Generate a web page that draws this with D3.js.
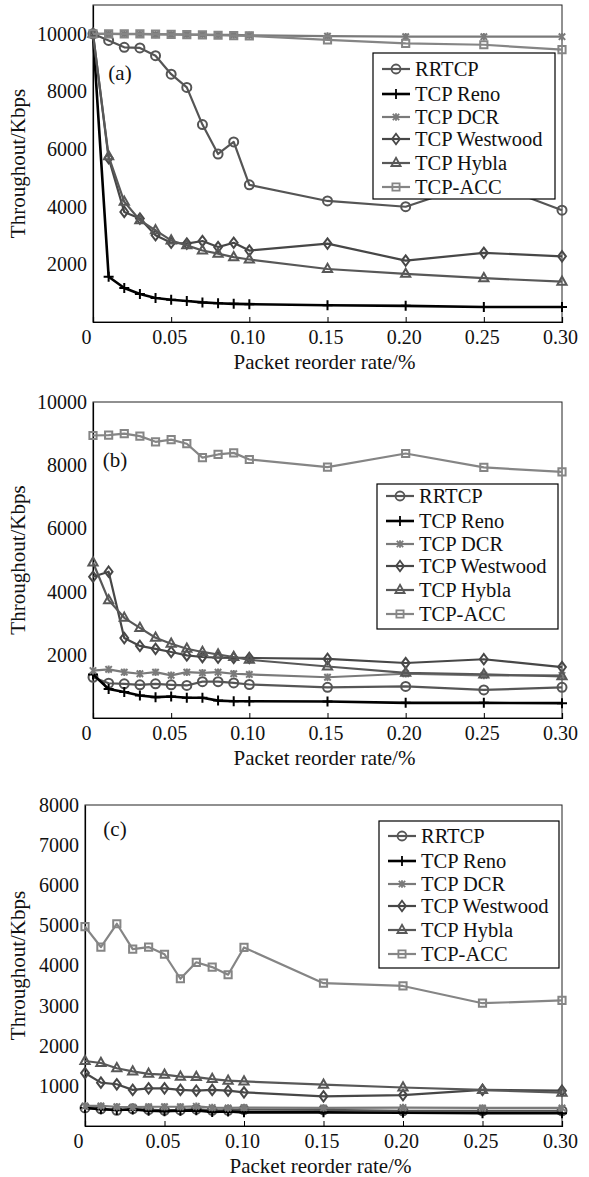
<!DOCTYPE html>
<html>
<head>
<meta charset="utf-8">
<script src="https://cdn.jsdelivr.net/npm/d3@7"></script>
<style>
body { margin: 0; background: #fff; }
svg { display: block; }
svg text { font-family: "Liberation Serif", "DejaVu Serif", serif !important; fill: #111; }
</style>
</head>
<body>
<svg></svg>
<script>
let width = 589, height = 1177;
const serif = "'Liberation Serif', 'DejaVu Serif', serif";

// packet reorder rate (%)
const xRates = [0, 0.01, 0.02, 0.03, 0.04, 0.05, 0.06, 0.07, 0.08, 0.09, 0.10, 0.15, 0.20, 0.25, 0.30];
const xTicks = [0, 0.05, 0.10, 0.15, 0.20, 0.25, 0.30];
const xTickLabels = ["0", "0.05", "0.10", "0.15", "0.20", "0.25", "0.30"];
const seriesNames = ["RRTCP", "TCP Reno", "TCP DCR", "TCP Westwood", "TCP Hybla", "TCP-ACC"];

// panel (a)
const aRRTCP    = [10000, 9770, 9530, 9510, 9240, 8600, 8140, 6850, 5830, 6250, 4760, 4200, 4000, 4900, 3880];
const aReno     = [10000, 1570, 1180, 970, 830, 770, 730, 680, 650, 630, 620, 580, 560, 520, 520];
const aDCR      = [10000, 10000, 9990, 9990, 9980, 9980, 9970, 9970, 9960, 9960, 9950, 9920, 9900, 9900, 9900];
const aWestwood = [10000, 5690, 3820, 3590, 3010, 2750, 2720, 2810, 2600, 2750, 2480, 2720, 2130, 2400, 2280];
const aHybla    = [10000, 5750, 4170, 3530, 3180, 2830, 2660, 2480, 2370, 2250, 2170, 1840, 1670, 1520, 1400];
const aACC      = [10000, 10000, 10000, 10000, 9990, 9980, 9970, 9960, 9950, 9940, 9930, 9790, 9670, 9620, 9450];
const aYTicks   = [2000, 4000, 6000, 8000, 10000];

// panel (b)
const bRRTCP    = [1290, 1100, 1080, 1050, 1080, 1050, 1030, 1150, 1150, 1110, 1060, 970, 1000, 890, 970];
const bReno     = [1380, 920, 820, 710, 660, 680, 640, 640, 550, 530, 530, 520, 480, 480, 470];
const bDCR      = [1500, 1540, 1450, 1400, 1450, 1350, 1450, 1430, 1450, 1400, 1380, 1290, 1400, 1350, 1350];
const bWestwood = [4470, 4630, 2530, 2280, 2190, 2090, 1980, 1930, 1910, 1900, 1900, 1870, 1740, 1860, 1610];
const bHybla    = [4920, 3730, 3170, 2850, 2540, 2350, 2190, 2090, 2010, 1930, 1840, 1630, 1430, 1380, 1320];
const bACC      = [8940, 8950, 9000, 8920, 8740, 8810, 8680, 8240, 8340, 8390, 8180, 7940, 8370, 7930, 7790];
const bYTicks   = [2000, 4000, 6000, 8000, 10000];

// panel (c)
const cRRTCP    = [450, 430, 390, 430, 410, 390, 400, 420, 390, 390, 410, 400, 380, 380, 380];
const cReno     = [450, 420, 400, 410, 380, 370, 380, 390, 350, 360, 340, 340, 330, 320, 320];
const cDCR      = [500, 500, 480, 470, 480, 480, 480, 490, 460, 450, 460, 450, 460, 450, 450];
const cWestwood = [1320, 1080, 1040, 900, 940, 940, 900, 880, 900, 880, 840, 740, 770, 900, 880];
const cHybla    = [1620, 1570, 1440, 1360, 1300, 1280, 1230, 1220, 1170, 1130, 1110, 1030, 960, 900, 830];
const cACC      = [4970, 4460, 5040, 4410, 4460, 4280, 3670, 4080, 3960, 3770, 4450, 3560, 3490, 3060, 3130];
const cYTicks   = [1000, 2000, 3000, 4000, 5000, 6000, 7000, 8000];

let svg = d3.select("svg")
    .attr("width", width)
    .attr("height", height)
    .attr("font-family", serif);

// styles per series: colour, line width, marker
const styles = [
  {color: "#555555", w: 2.2, marker: "circle"},
  {color: "#000000", w: 2.6, marker: "plus"},
  {color: "#7a7a7a", w: 2.2, marker: "star"},
  {color: "#474747", w: 2.2, marker: "diamond"},
  {color: "#585858", w: 2.2, marker: "triangle"},
  {color: "#858585", w: 2.2, marker: "square"}
];

const markerPath = {
  circle: "M4.5,0A4.5,4.5 0 1,1 -4.5,0A4.5,4.5 0 1,1 4.5,0Z",
  plus: "M-5,0H5M0,-5V5",
  star: "M-3.2,-3.2L3.2,3.2M-3.2,3.2L3.2,-3.2M0,-3.8V3.8",
  diamond: "M0,-5.2L3.9,0L0,5.2L-3.9,0Z",
  triangle: "M0,-5.2L4.6,3L-4.6,3Z",
  square: "M-3.6,-3.6H3.6V3.6H-3.6Z"
};

// row offsets inside the legend (third and fourth rows sit close together)
const legendRows = [0, 25, 48, 70, 94, 118];

const panels = [
  {tag: "(a)", tagPos: [120, 73], top: 5, bottom: 322, left: 93, yMax: 11000, yTicks: aYTicks,
   data: [aRRTCP, aReno, aDCR, aWestwood, aHybla, aACC], legend: {x: 373, y: 53, w: 182, h: 146, first: 69}},
  {tag: "(b)", tagPos: [115, 460], top: 402, bottom: 718, left: 93, yMax: 10000, yTicks: bYTicks,
   data: [bRRTCP, bReno, bDCR, bWestwood, bHybla, bACC], legend: {x: 377, y: 484, w: 181, h: 145, first: 496}},
  {tag: "(c)", tagPos: [115, 829], top: 805, bottom: 1126, left: 85, yMax: 8000, yTicks: cYTicks,
   data: [cRRTCP, cReno, cDCR, cWestwood, cHybla, cACC], legend: {x: 379, y: 821, w: 180, h: 147, first: 836}}
];

const right = 562;

panels.forEach(p => {
  let g = svg.append("g");

  let x = d3.scaleLinear().domain([0, 0.30]).range([p.left, right]);
  let y = d3.scaleLinear().domain([0, p.yMax]).range([p.bottom, p.top]);

  // frame
  g.append("rect")
    .attr("x", p.left).attr("y", p.top)
    .attr("width", right - p.left).attr("height", p.bottom - p.top)
    .attr("fill", "none").attr("stroke", "#222").attr("stroke-width", 1);

  // x axis, ticks point inward
  let xAxis = g.append("g")
    .attr("transform", "translate(0," + p.bottom + ")")
    .call(d3.axisBottom(x).tickValues(xTicks)
      .tickFormat((d, i) => xTickLabels[i])
      .tickSize(-5).tickPadding(8));
  xAxis.attr("font-family", serif).attr("font-size", 20);
  xAxis.select(".domain").attr("stroke", "#000").attr("stroke-width", 1.2);
  xAxis.selectAll(".tick line").attr("stroke", "#000");
  xAxis.selectAll("text").attr("dx", (d, i) => i == 0 ? -7 : -2);

  // y axis
  let yAxis = g.append("g")
    .attr("transform", "translate(" + p.left + ",0)")
    .call(d3.axisLeft(y).tickValues(p.yTicks).tickFormat(d3.format("d"))
      .tickSize(0).tickPadding(6));
  yAxis.attr("font-family", serif).attr("font-size", 20);
  yAxis.select(".domain").attr("stroke", "#000").attr("stroke-width", 1.2);

  // series lines + markers (legend order, later ones on top)
  let line = d3.line().x((d, i) => x(xRates[i])).y(d => y(d));
  p.data.forEach((vals, k) => {
    let s = styles[k];
    g.append("path")
      .datum(vals)
      .attr("d", line)
      .attr("fill", "none")
      .attr("stroke", s.color)
      .attr("stroke-width", s.w)
      .attr("stroke-linejoin", "round");
    g.selectAll(null)
      .data(vals)
      .enter()
      .append("path")
      .attr("d", markerPath[s.marker])
      .attr("transform", (d, i) => "translate(" + x(xRates[i]) + "," + y(d) + ")")
      .attr("fill", "none")
      .attr("stroke", s.color)
      .attr("stroke-width", 2);
  });

  // panel tag
  g.append("text")
    .attr("x", p.tagPos[0]).attr("y", p.tagPos[1])
    .attr("dy", "0.35em")
    .attr("text-anchor", "middle")
    .attr("font-size", 21)
    .text(p.tag);

  // legend
  let L = p.legend;
  let lg = g.append("g");
  lg.append("rect")
    .attr("x", L.x).attr("y", L.y).attr("width", L.w).attr("height", L.h)
    .attr("fill", "#fff").attr("stroke", "#000").attr("stroke-width", 1.2);
  seriesNames.forEach((name, k) => {
    let s = styles[k];
    let ry = L.first + legendRows[k];
    lg.append("line")
      .attr("x1", L.x + 9).attr("x2", L.x + 37)
      .attr("y1", ry).attr("y2", ry)
      .attr("stroke", s.color).attr("stroke-width", s.w);
    lg.append("path")
      .attr("d", markerPath[s.marker])
      .attr("transform", "translate(" + (L.x + 23) + "," + ry + ")")
      .attr("fill", "none").attr("stroke", s.color).attr("stroke-width", 1.8);
    lg.append("text")
      .attr("x", L.x + 42).attr("y", ry)
      .attr("dy", "0.35em")
      .attr("font-size", 20.5)
      .text(name);
  });

  // axis titles
  g.append("text")
    .attr("x", (p.left + right) / 2 - 3)
    .attr("y", p.bottom + 47)
    .attr("text-anchor", "middle")
    .attr("font-size", 21)
    .text("Packet reorder rate/%");

  g.append("text")
    .attr("transform", "translate(18," + (p.top + p.bottom) / 2 + ") rotate(-90)")
    .attr("dy", "0.35em")
    .attr("text-anchor", "middle")
    .attr("font-size", 21)
    .text("Throughout/Kbps");
});
</script>
</body>
</html>
